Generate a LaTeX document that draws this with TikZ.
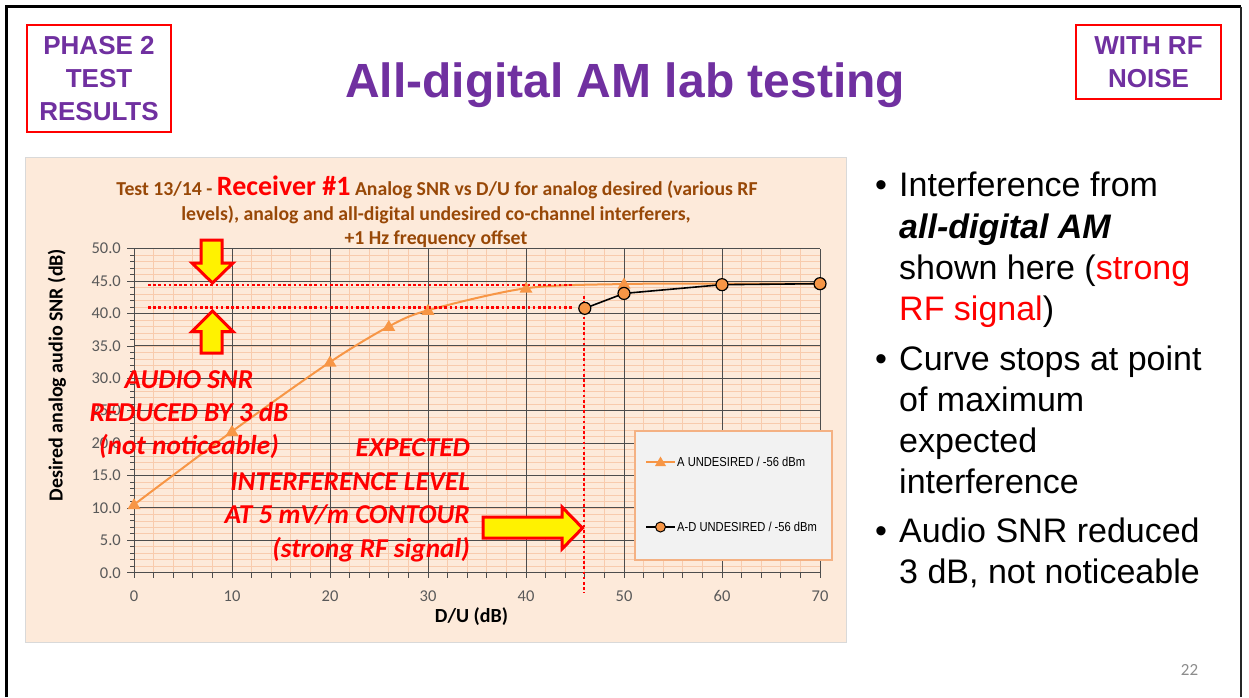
\documentclass[tikz,border=0pt]{standalone}
\usepackage{fontspec}
\usepackage{graphicx}
\setmainfont{Liberation Sans}
\newfontfamily\calib{Carlito}
\definecolor{ppl}{HTML}{7030A0}
\definecolor{chartbg}{HTML}{FDEADA}
\definecolor{chartedge}{HTML}{D9D9D9}
\definecolor{minorgrid}{HTML}{F8CBAD}
\definecolor{majorgrid}{HTML}{4D4D4D}
\definecolor{serA}{HTML}{F79646}
\definecolor{ttlbrown}{HTML}{984807}
\definecolor{tickgray}{HTML}{595959}
\definecolor{legbg}{HTML}{F2F2F2}
\definecolor{legedge}{HTML}{F4B183}
\definecolor{pagegray}{HTML}{8C8C8C}
\begin{document}
\begin{tikzpicture}[x=1pt,y=-1pt,
  tagbox/.style={draw=red, line width=1.3pt, text=ppl, align=center, inner sep=0pt,
    font=\fontsize{26}{33}\selectfont\bfseries},
  ticklbl/.style={text=tickgray, inner sep=0pt, font=\calib\fontsize{16.5}{16.5}\selectfont},
  axlbl/.style={inner sep=0pt, font=\calib\bfseries\fontsize{20}{20}\selectfont},
  ctitle/.style={inner sep=0pt, anchor=base, text=ttlbrown, font=\calib\bfseries\fontsize{19.75}{19.75}\selectfont},
  note/.style={inner sep=0pt, text=red, font=\calib\bfseries\itshape\fontsize{27.3}{27.3}\selectfont},
  bul/.style={inner sep=0pt, anchor=base west, font=\fontsize{34}{34}\selectfont},
  bigarrow/.style={fill=yellow, draw=red, line width=3pt, line join=miter},
  redline/.style={red, line width=2.6pt, dash pattern=on 2.6pt off 2.6pt},
  legtxt/.style={inner sep=0pt, anchor=west, font=\fontsize{13}{13}\selectfont},
  marktri/.style={fill=serA},
  markcirc/.style={fill=serA, draw=black, line width=1.2pt}
]
\useasboundingbox (0,0) rectangle (1249,697);
\fill[white] (0,0) rectangle (1249,697);
% slide frame
\draw[line width=3pt] (6.5,697) -- (6.5,6.5) -- (1241,6.5);
\draw[line width=2.5pt, black!85] (1241,6.5) -- (1241,697);

% tag boxes and title
\node[tagbox, minimum width=144pt, minimum height=107pt] (phase) at (99,78.5) {PHASE 2\\TEST\\RESULTS};
\node[tagbox, minimum width=145pt, minimum height=74pt] (rf) at (1148.5,62) {WITH RF\\NOISE};
\node[inner sep=0pt, anchor=base, text=ppl, font=\fontsize{48}{48}\selectfont\bfseries] (title) at (625,97) {All-digital AM lab testing};

% chart area
\filldraw[fill=chartbg, draw=chartedge, line width=1pt] (25,157) rectangle (846,642);

\node[ctitle] (ct1) at (437,195) {Test 13/14 - {\color{red}\fontsize{28}{28}\selectfont Receiver \#1} Analog SNR vs D/U for analog desired (various RF};
\node[ctitle] (ct2) at (436,220.5) {levels), analog and all-digital undesired co-channel interferers,};
\node[ctitle] (ct3) at (436,244) {+1 Hz frequency offset};

\begin{scope}[shift={(134,572.7)}, x=9.8pt, y=6.48pt]
  \foreach \v in {0,...,50} \draw[minorgrid, line width=0.7pt] (0,\v) -- (70,\v);
  \foreach \u in {0,2,...,70} \draw[minorgrid, line width=0.7pt] (\u,0) -- (\u,50);
  \foreach \v in {0,5,...,50} \draw[majorgrid, line width=0.9pt] (0,\v) -- (70,\v);
  \foreach \u in {0,10,...,70} \draw[majorgrid, line width=0.9pt] (\u,0) -- (\u,50);
  % ticks
  \foreach \v in {0,...,50} \draw[majorgrid, line width=0.8pt] (0,\v) -- ++(-4pt,0);
  \foreach \v in {0,5,...,50} \draw[majorgrid, line width=0.8pt] (0,\v) -- ++(-7pt,0);
  \foreach \u in {0,2,...,70} \draw[majorgrid, line width=0.8pt] (\u,0) -- ++(0,-5pt);
  \foreach \v in {0,5,...,50} \node[ticklbl, anchor=east] at ([xshift=-13pt]0,\v) {\v.0};
  \foreach \u in {0,10,...,70} \node[ticklbl] at ([yshift=-23.3pt]\u,0) {\u};
  % data points
  \coordinate (a0) at (0,10.5);
  \coordinate (a1) at (10,21.8);
  \coordinate (a2) at (20,32.5);
  \coordinate (a3) at (26,38);
  \coordinate (a4) at (30,40.5);
  \coordinate (a5) at (40,43.9);
  \coordinate (a6) at (50,44.55);
  \coordinate (a7) at (60,44.6);
  \coordinate (a8) at (70,44.6);
  \coordinate (d0) at (46,40.8);
  \coordinate (d1) at (50,43.1);
  \coordinate (d2) at (60,44.45);
  \coordinate (d3) at (70,44.6);
  \draw[serA, line width=2pt] plot[smooth, tension=0.5] coordinates {(0,10.5) (10,21.8) (20,32.5) (26,38) (30,40.5) (40,43.9) (50,44.55) (60,44.6) (70,44.6)};
  \foreach \p in {a0,a1,a2,a3,a4,a5,a6,a7,a8}
    \fill[marktri] (\p) ++(0pt,6.5pt) -- ++(-6.5pt,-11pt) -- ++(13pt,0pt) -- cycle;
\end{scope}

% red dotted guide lines
\coordinate (h1s) at (148,285);
\coordinate (h1e) at (572,285);
\coordinate (h2s) at (148,307.5);
\coordinate (h2e) at (572,307.5);
\coordinate (vs) at (584,296);
\coordinate (ve) at (584,593);
\draw[redline] (h1s) -- (h1e);
\draw[redline] (h2s) -- (h2e);
\draw[redline] (vs) -- (ve);

% A-D series
\draw[black, line width=1.6pt] (d0) -- (d1) -- (d2) -- (d3);
\foreach \p in {d0,d1,d2,d3} \draw[markcirc] (\p) circle (6pt);

% arrows
\draw[bigarrow] (201,240) -- (222,240) -- (222,263) -- (233,263) -- (212.5,283) -- (192,263) -- (201,263) -- cycle;
\draw[bigarrow] (212.5,311) -- (233,331.5) -- (222,331.5) -- (222,353) -- (201,353) -- (201,331.5) -- (192,331.5) -- cycle;
\draw[bigarrow] (483,517) -- (562,517) -- (562,507) -- (582.5,528) -- (562,549) -- (562,538) -- (483,538) -- cycle;

% annotations
\node[note, anchor=base] (n1) at (189,388.5) {AUDIO SNR};
\node[note, anchor=base] (n2) at (189,421.5) {REDUCED BY 3 dB};
\node[note, anchor=base] (n3) at (189,454) {(not noticeable)};
\node[note, anchor=base east] (e1) at (470,456.5) {EXPECTED};
\node[note, anchor=base east] (e2) at (470,490) {INTERFERENCE LEVEL};
\node[note, anchor=base east] (e3) at (470,523.5) {AT 5 mV/m CONTOUR};
\node[note, anchor=base east] (e4) at (470,557) {(strong RF signal)};

% axis labels
\node[axlbl] (xl) at (471.5,616.5) {D/U (dB)};
\node[axlbl, rotate=90] (yl) at (57,375) {Desired analog audio SNR (dB)};

% legend
\filldraw[fill=legbg, draw=legedge, line width=1.2pt] (635,431) rectangle (832,560);
\coordinate (l1s) at (646,462);
\coordinate (l1e) at (675,462);
\coordinate (l1m) at (660.5,462);
\coordinate (l2s) at (646,527);
\coordinate (l2e) at (675,527);
\coordinate (l2m) at (660.5,527);
\draw[serA, line width=2pt] (l1s) -- (l1e);
\fill[marktri] (l1m) ++(0pt,5.5pt) -- ++(-5.5pt,-9.5pt) -- ++(11pt,0pt) -- cycle;
\draw[black, line width=1.5pt] (l2s) -- (l2e);
\draw[markcirc, line width=1pt] (l2m) circle (5pt);
\node[legtxt] (lt1) at (677,462) {\scalebox{0.86}[1]{A UNDESIRED / -56 dBm}};
\node[legtxt] (lt2) at (677,527) {\scalebox{0.86}[1]{A-D UNDESIRED / -56 dBm}};

% bullets
\node[bul] (b1) at (875,196) {•};
\node[bul] (t1) at (899,196) {Interference from};
\node[bul] (t2) at (899,238) {\bfseries\itshape all-digital AM};
\node[bul] (t3) at (899,279) {shown here ({\color{red}strong}};
\node[bul] (t4) at (899,320.5) {{\color{red}RF signal})};
\node[bul] (b2) at (875,370) {•};
\node[bul] (t5) at (899,370) {Curve stops at point};
\node[bul] (t6) at (899,411) {of maximum};
\node[bul] (t7) at (899,452) {expected};
\node[bul] (t8) at (899,493.5) {interference};
\node[bul] (b3) at (875,542.3) {•};
\node[bul] (t9) at (899,542.3) {Audio SNR reduced};
\node[bul] (t10) at (899,583.3) {3 dB, not noticeable};

\node[inner sep=0pt, text=pagegray, font=\calib\fontsize{17}{17}\selectfont] (pg) at (1189.5,670) {22};
\end{tikzpicture}
\end{document}
